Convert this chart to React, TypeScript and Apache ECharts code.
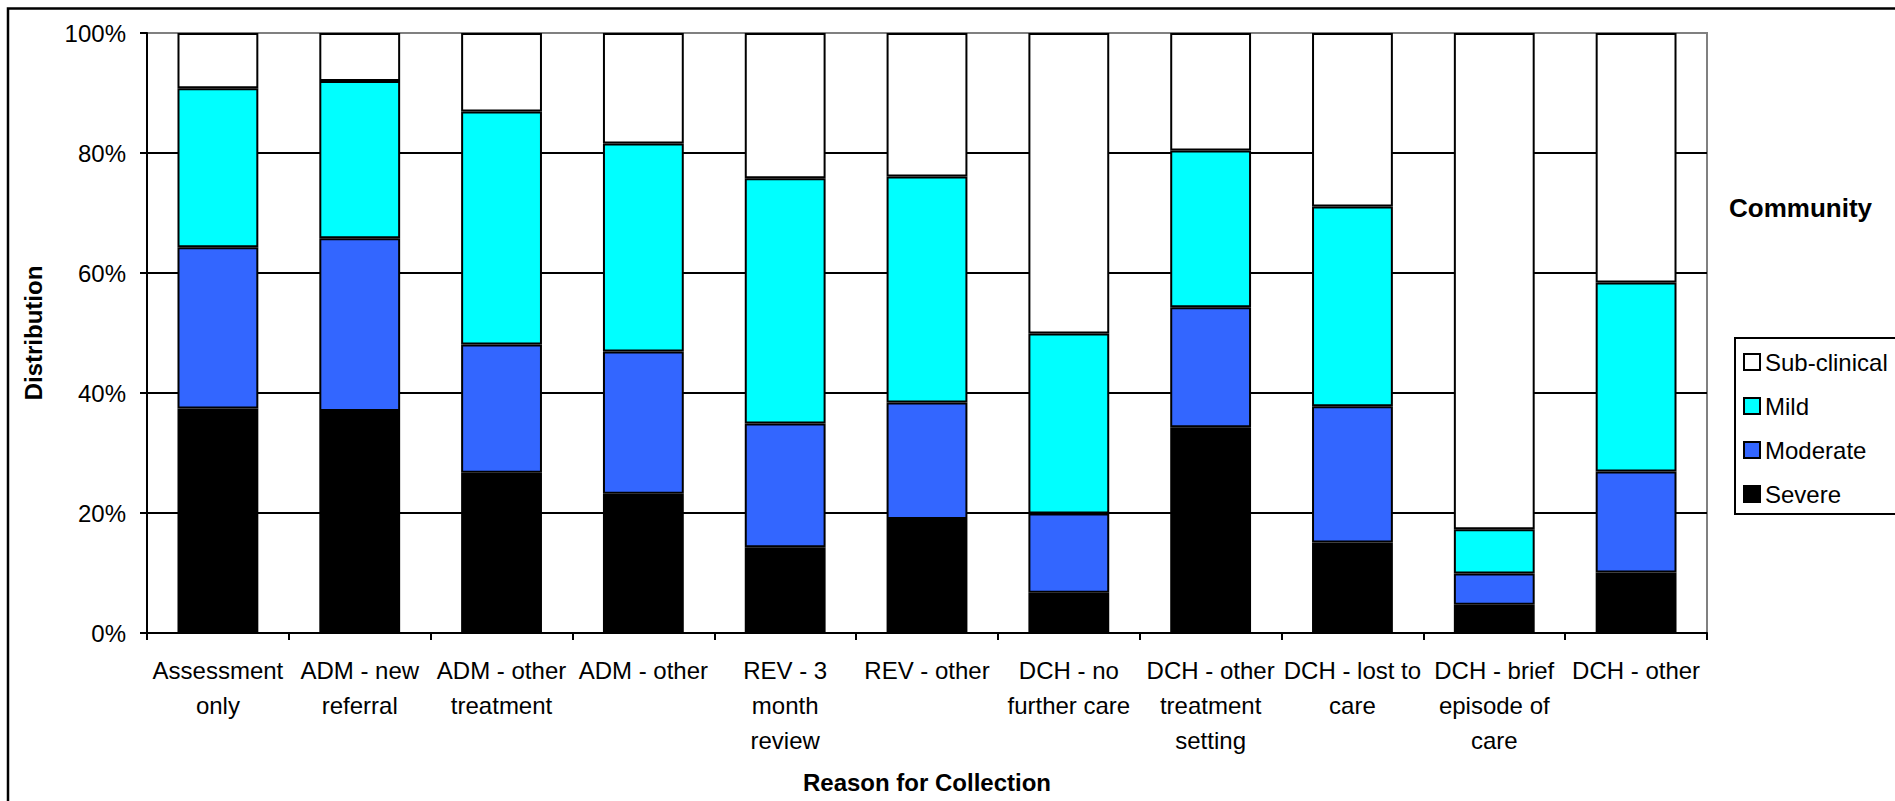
import React, { useEffect, useRef } from "react";
import * as echarts from "echarts";

const categories = [
  "Assessment\nonly",
  "ADM - new\nreferral",
  "ADM - other\ntreatment",
  "ADM - other",
  "REV - 3\nmonth\nreview",
  "REV - other",
  "DCH - no\nfurther care",
  "DCH - other\ntreatment\nsetting",
  "DCH - lost to\ncare",
  "DCH - brief\nepisode of\ncare",
  "DCH - other",
];

const severe = [37.4, 37.0, 26.7, 23.2, 14.3, 19.0, 6.7, 34.3, 15.1, 4.7, 10.1];
const moderate = [26.9, 28.8, 21.4, 23.7, 20.6, 19.4, 13.2, 20.0, 22.7, 5.2, 16.8];
const mild = [26.5, 26.2, 38.8, 34.7, 40.9, 37.7, 30.0, 26.1, 33.3, 7.4, 31.5];
const subClinical = [9.2, 8.0, 13.1, 18.4, 24.2, 23.9, 50.1, 19.6, 28.9, 82.7, 41.6];

const seriesNames = ["Severe", "Moderate", "Mild", "Sub-clinical"];
const legendOrder = ["Sub-clinical", "Mild", "Moderate", "Severe"];
const seriesColors = ["#000000", "#3366FF", "#00FFFF", "#FFFFFF"];

const FONT = "'Liberation Sans', Arial, sans-serif";

export default function App() {
  const ref = useRef<HTMLDivElement>(null);

  useEffect(() => {
    if (!ref.current) return;
    const chart = echarts.init(ref.current, undefined, { renderer: "svg" });
    const dataSets = [severe, moderate, mild, subClinical];

    chart.setOption({
      animation: false,
      backgroundColor: "#FFFFFF",
      textStyle: { fontFamily: FONT },
      title: {
        text: "Community",
        left: 1729,
        top: 195,
        padding: 0,
        textStyle: { fontFamily: FONT, fontSize: 26, fontWeight: "bold", color: "#000" },
      },
      legend: {
        data: legendOrder,
        orient: "vertical",
        left: 1743,
        top: 350,
        padding: 0,
        itemWidth: 16,
        itemHeight: 16,
        itemGap: 20,
        icon: "rect",
        itemStyle: { borderColor: "#000", borderWidth: 2 },
        textStyle: { fontFamily: FONT, fontSize: 24, color: "#000" },
        selectedMode: false,
      },
      grid: {
        left: 147,
        right: 188,
        top: 33,
        bottom: 168,
        show: true,
        borderColor: "#808080",
        borderWidth: 2,
        backgroundColor: "transparent",
      },
      xAxis: {
        type: "category",
        data: categories,
        name: "Reason for Collection",
        nameLocation: "middle",
        nameGap: 137,
        nameTextStyle: { fontFamily: FONT, fontSize: 24, fontWeight: "bold", color: "#000" },
        axisLine: { lineStyle: { color: "#000", width: 2 } },
        axisTick: { show: true, length: 7, lineStyle: { color: "#000", width: 2 } },
        axisLabel: {
          interval: 0,
          margin: 20,
          fontFamily: FONT,
          fontSize: 24,
          lineHeight: 35,
          color: "#000",
        },
      },
      yAxis: {
        type: "value",
        min: 0,
        max: 100,
        interval: 20,
        name: "Distribution",
        nameLocation: "middle",
        nameGap: 102,
        nameTextStyle: { fontFamily: FONT, fontSize: 24, fontWeight: "bold", color: "#000" },
        axisLine: { show: true, lineStyle: { color: "#000", width: 2 } },
        axisTick: { show: true, length: 7, lineStyle: { color: "#000", width: 2 } },
        axisLabel: {
          formatter: "{value}%",
          margin: 21,
          fontFamily: FONT,
          fontSize: 24,
          color: "#000",
        },
        splitLine: {
          show: true,
          lineStyle: {
            color: ["#000", "#000", "#000", "#000", "#000", "#808080"],
            width: 2,
          },
        },
      },
      graphic: [
        {
          type: "polyline",
          shape: { points: [[8, 801], [8, 8.5], [1895, 8.5]] },
          style: { stroke: "#000", lineWidth: 2.5, fill: "none" },
          silent: true,
        },
        {
          type: "rect",
          shape: { x: 1735, y: 338, width: 200, height: 176 },
          style: { stroke: "#000", lineWidth: 2, fill: "none" },
          silent: true,
        },
      ],
      series: seriesNames.map((name, i) => ({
        name,
        type: "bar",
        stack: "total",
        data: dataSets[i],
        barCategoryGap: "43%",
        itemStyle: { color: seriesColors[i], borderColor: "#000", borderWidth: 2 },
        emphasis: { disabled: true },
      })),
    });

    return () => chart.dispose();
  }, []);

  return (
    <div
      ref={ref}
      style={{ position: "fixed", left: 0, top: 0, width: 1895, height: 801 }}
    />
  );
}
